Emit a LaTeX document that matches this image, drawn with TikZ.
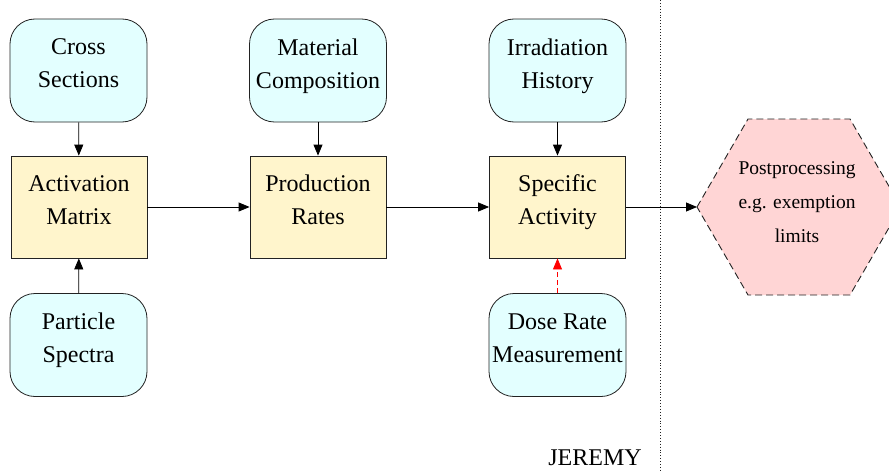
\documentclass[tikz,border=0pt]{standalone}
\usepackage{fontspec}
\setmainfont{Liberation Serif}
\usetikzlibrary{arrows.meta}
\definecolor{cyanfill}{HTML}{E3FFFF}
\definecolor{yellowfill}{HTML}{FFF5CC}
\definecolor{pinkfill}{HTML}{FFD5D5}
\definecolor{edgegray}{HTML}{222222}
\newcommand{\upshift}{\rule[-14pt]{0pt}{0pt}}
\begin{document}
\begin{tikzpicture}[x=1pt,y=-1pt,
  boxtext/.style={align=center, inner sep=0pt, font=\fontspec{Liberation Serif}\fontsize{24}{33}\selectfont},
  inbox/.style={boxtext, draw=edgegray, line width=0.8pt, fill=cyanfill, rounded corners=25pt, minimum width=137pt, minimum height=103pt},
  calcbox/.style={boxtext, draw=edgegray, line width=0.8pt, fill=yellowfill, minimum width=136pt, minimum height=102pt},
  link/.style={-{Triangle[length=11pt,width=9pt]}, draw=black, line width=0.8pt},
  redlink/.style={link, draw=red, dash pattern=on 5pt off 3pt, color=red}
]
\useasboundingbox (0,0) rectangle (889,471);
\draw[dotted, line width=0.9pt, draw=edgegray] (660,0) -- (660,471);
\node[font=\fontsize{24}{28}\selectfont, anchor=base] (jer) at (595,465) {JEREMY};
\draw[dash pattern=on 7pt off 4pt, draw=edgegray, fill=pinkfill, line width=0.9pt]
  (697,207) -- (748,119) -- (850,119) -- (901,207) -- (850,295) -- (748,295) -- cycle;
\coordinate (hx) at (697,207);
\node[align=center, font=\fontsize{19.5}{34}\selectfont] (post) at (797,202) {Postprocessing\\e.g. exemption\\limits};
\node[inbox] (cs) at (78.5,70.5) {Cross\\Sections\upshift};
\node[inbox] (mc) at (318,70.5) {Material\\Composition\upshift};
\node[inbox] (ih) at (557.5,70.5) {Irradiation\\History\upshift};
\node[calcbox] (am) at (79,207) {Activation\\Matrix\upshift};
\node[calcbox] (pr) at (318,207) {Production\\Rates\upshift};
\node[calcbox] (sa) at (557.5,207) {Specific\\Activity\upshift};
\node[inbox] (ps) at (78.5,345) {Particle\\Spectra\upshift};
\node[inbox] (dr) at (557.5,345) {Dose Rate\\Measurement\upshift};
\draw[link] (cs) -- (am);
\draw[link] (mc) -- (pr);
\draw[link] (ih) -- (sa);
\draw[link] (ps) -- (am);
\draw[link] (am) -- (pr);
\draw[link] (pr) -- (sa);
\draw[link] (sa) -- (hx);
\draw[redlink] (dr) -- (sa);
\end{tikzpicture}
\end{document}
